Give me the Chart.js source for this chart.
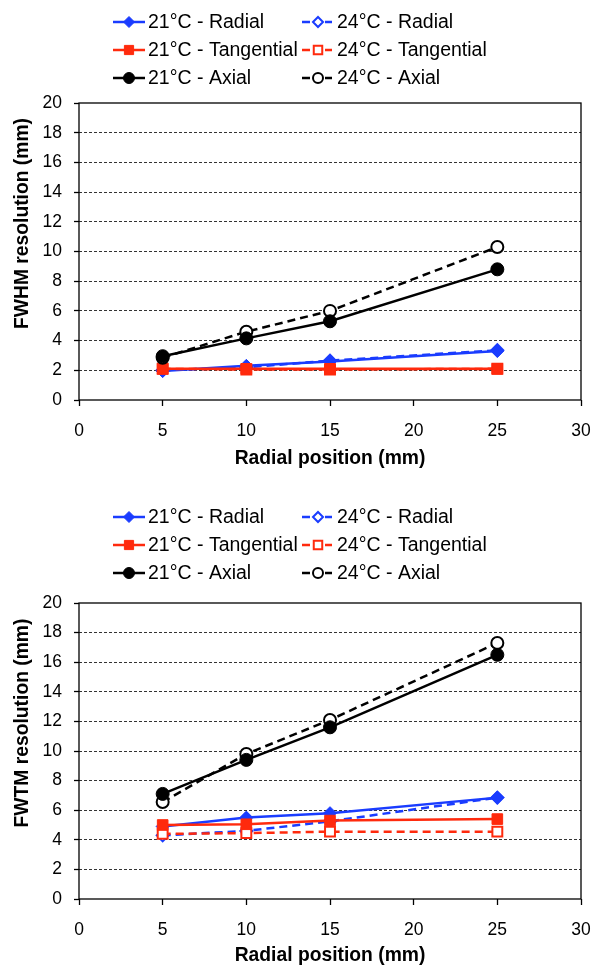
<!DOCTYPE html>
<html>
<head>
<meta charset="utf-8">
<script src="https://cdn.jsdelivr.net/npm/chart.js@4.4.0/dist/chart.umd.min.js"></script>
<style>
  html, body { margin: 0; padding: 0; background: #fff; }
  .caja { position: absolute; left: 0; width: 592px; height: 480px; }
  #cajaFwhm { top: 0; }
  #cajaFwtm { top: 487px; }
</style>
</head>
<body>
<div class="caja" id="cajaFwhm"><canvas id="graficoFwhm" width="592" height="480"></canvas></div>
<div class="caja" id="cajaFwtm"><canvas id="graficoFwtm" width="592" height="480"></canvas></div>
<script>
// Datos
const posiciones = [5, 10, 15, 25];
const etiquetas = ["21°C - Radial", "21°C - Tangential", "21°C - Axial",
                   "24°C - Radial", "24°C - Tangential", "24°C - Axial"];

const fwhmRadial21 = [1.95, 2.3, 2.6, 3.3];
const fwhmTangencial21 = [2.1, 2.1, 2.1, 2.1];
const fwhmAxial21 = [2.95, 4.15, 5.3, 8.8];
const fwhmRadial24 = [2.0, 2.2, 2.65, 3.35];
const fwhmTangencial24 = [2.1, 2.05, 2.05, 2.1];
const fwhmAxial24 = [2.85, 4.6, 6.0, 10.3];

const fwtmRadial21 = [4.9, 5.5, 5.8, 6.85];
const fwtmTangencial21 = [5.0, 5.05, 5.3, 5.4];
const fwtmAxial21 = [7.1, 9.4, 11.6, 16.5];
const fwtmRadial24 = [4.3, 4.6, 5.25, 6.85];
const fwtmTangencial24 = [4.4, 4.45, 4.55, 4.55];
const fwtmAxial24 = [6.55, 9.8, 12.1, 17.3];

const AZUL = "#1a3cff";
const ROJO = "#ff2a0d";
const NEGRO = "#000000";
const FUENTE = '"Liberation Sans", Arial, sans-serif';

function puntos(valores) {
  return posiciones.map((x, i) => ({ x: x, y: valores[i] }));
}

// estilo de cada serie: color, marcador, relleno, discontinua
function serie(i, valores) {
  const color = [AZUL, ROJO, NEGRO][i % 3];
  const estilo = ["rectRot", "rect", "circle"][i % 3];
  const abierto = i >= 3;
  const radio = estilo === "rect" ? 7.5 : 6.5;
  return {
    label: etiquetas[i],
    data: puntos(valores),
    borderColor: color,
    backgroundColor: color,
    borderWidth: 2.5,
    borderDash: abierto ? [8, 5] : [],
    tension: 0,
    pointStyle: estilo,
    pointRadius: abierto ? radio - 0.5 : radio,
    pointBorderWidth: abierto ? 2 : 1,
    pointBorderColor: color,
    pointBackgroundColor: abierto ? "#ffffff" : color,
    order: [4, 2, 0, 5, 3, 1][i]
  };
}

function crearGrafico(id, tituloY, valores, conf) {
  const ctx = document.getElementById(id).getContext("2d");

  const leyenda = {
    id: "leyenda",
    afterDraw(chart) {
      const c = chart.ctx;
      c.save();
      chart.data.datasets.forEach((ds, i) => {
        const col = Math.floor(i / 3);
        const y = conf.filas[i % 3];
        c.strokeStyle = ds.borderColor;
        c.lineWidth = 2.5;
        c.setLineDash([]);
        c.beginPath();
        if (col === 0) {
          c.moveTo(113, y); c.lineTo(145, y);
        } else {
          c.moveTo(302, y); c.lineTo(310, y);
          c.moveTo(325, y); c.lineTo(332, y);
        }
        c.stroke();
        const cx = col === 0 ? 129 : 318;
        c.fillStyle = ds.pointBackgroundColor;
        c.strokeStyle = ds.pointBorderColor;
        c.lineWidth = ds.pointBorderWidth;
        Chart.helpers.drawPoint(c, {
          pointStyle: ds.pointStyle,
          radius: ds.pointRadius - 1,
          rotation: 0,
          borderWidth: ds.pointBorderWidth
        }, cx, y);
        c.fillStyle = "#000";
        c.font = "19.5px " + FUENTE;
        c.textAlign = "left";
        c.textBaseline = "middle";
        c.fillText(ds.label, col === 0 ? 148 : 337, y + 1);
      });
      c.restore();
    }
  };

  const marco = {
    id: "marco",
    beforeDatasetsDraw(chart) {
      const a = chart.chartArea;
      const c = chart.ctx;
      c.save();
      c.strokeStyle = "#000";
      c.lineWidth = 1.3;
      c.setLineDash([]);
      c.strokeRect(a.left, a.top, a.right - a.left, a.bottom - a.top);
      // titulo del eje Y
      c.translate(23, (a.top + a.bottom) / 2 - 28);
      c.rotate(-Math.PI / 2);
      c.fillStyle = "#000";
      c.font = "bold 19.3px " + FUENTE;
      c.textAlign = "center";
      c.textBaseline = "middle";
      c.fillText(tituloY, 0, 0);
      c.restore();
    }
  };

  return new Chart(ctx, {
    type: "line",
    data: {
      datasets: valores.map((v, i) => serie(i, v))
    },
    options: {
      responsive: false,
      animation: false,
      devicePixelRatio: 1,
      layout: { padding: { top: conf.arriba, right: 11, left: 0, bottom: 0 } },
      plugins: {
        legend: { display: false },
        tooltip: { enabled: false }
      },
      scales: {
        x: {
          type: "linear",
          min: 0,
          max: 30,
          ticks: { stepSize: 5, color: "#000", padding: 15, font: { size: 17.5, family: FUENTE } },
          grid: { drawOnChartArea: false, drawTicks: true, tickLength: 6, tickColor: "#000", tickWidth: 1.3 },
          border: { display: false },
          title: {
            display: true,
            text: "Radial position (mm)",
            color: "#000",
            font: { size: 19.3, weight: "bold", family: FUENTE },
            padding: { top: 0, bottom: conf.pieTitulo }
          },
          afterFit: (s) => {
            s.height = conf.altoX;
            s.paddingLeft = 0;
            s.paddingRight = 0;
          }
        },
        y: {
          min: 0,
          max: 20,
          ticks: { stepSize: 2, color: "#000", padding: 12, font: { size: 17.5, family: FUENTE } },
          grid: {
            color: (c) => (c.tick.value === 0 || c.tick.value === 20) ? "rgba(0,0,0,0)" : "#333",
            lineWidth: 1,
            tickLength: 5,
            tickColor: "#000",
            tickWidth: 1.3
          },
          border: { display: false, dash: [3, 2] },
          afterFit: (s) => { s.width = 79; }
        }
      }
    },
    plugins: [marco, leyenda]
  });
}

crearGrafico("graficoFwhm", "FWHM resolution (mm)",
  [fwhmRadial21, fwhmTangencial21, fwhmAxial21, fwhmRadial24, fwhmTangencial24, fwhmAxial24],
  { arriba: 103, altoX: 80, pieTitulo: 10, filas: [22, 50, 78] });

crearGrafico("graficoFwtm", "FWTM resolution (mm)",
  [fwtmRadial21, fwtmTangencial21, fwtmAxial21, fwtmRadial24, fwtmTangencial24, fwtmAxial24],
  { arriba: 116, altoX: 68, pieTitulo: 0, filas: [30, 58, 86] });
</script>
</body>
</html>
